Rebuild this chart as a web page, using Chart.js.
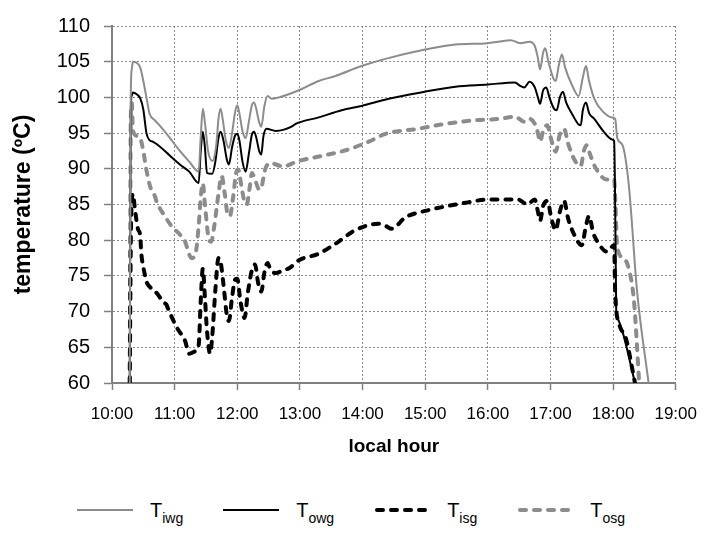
<!DOCTYPE html>
<html>
<head>
<meta charset="utf-8">
<script src="https://cdn.jsdelivr.net/npm/chart.js@4.4.0/dist/chart.umd.min.js"></script>
<style>
  body { margin: 0; background: #fff; }
  #wrap { position: relative; width: 711px; height: 550px; background: #fff; font-family: 'Liberation Sans', Arial, sans-serif; }
  #chart { position: absolute; left: 0; top: 0; }
  #legend { position: absolute; left: 77px; top: 497px; display: flex; align-items: center; gap: 40px; }
  .item { display: flex; align-items: center; }
  .item svg { margin-right: 17px; }
  .lbl { font-size: 20px; color: #000; line-height: 26px; }
  .lbl sub { font-size: 14px; vertical-align: -6px; line-height: 0; }
</style>
</head>
<body>
<div id="wrap">
  <canvas id="chart" width="711" height="470"></canvas>
  <div id="legend"></div>
</div>
<script>
// local time (h:mm) and temperature in ºC for each glass temperature
const iwgTimes = ['10:17', '10:18', '10:19', '10:20', '10:23', '10:27', '10:30', '10:33', '10:36', '10:41', '10:46', '10:55',
  '11:05', '11:14', '11:23', '11:25', '11:27', '11:29', '11:32', '11:36', '11:40', '11:42', '11:44', '11:46', '11:49', '11:52',
  '11:55', '11:58', '12:00', '12:02', '12:05', '12:08', '12:11', '12:14', '12:16', '12:18', '12:21', '12:23', '12:26', '12:29',
  '12:33', '12:40', '12:59', '13:18', '13:34', '13:59', '14:22', '15:00', '15:29', '16:00', '16:10', '16:22', '16:31', '16:40',
  '16:45', '16:48', '16:50', '16:53', '16:55', '16:58', '17:03', '17:05', '17:08', '17:11', '17:14', '17:21', '17:27', '17:31',
  '17:34', '17:37', '17:42', '17:51', '17:59', '18:02', '18:04', '18:09', '18:15', '18:23', '18:34']
const iwgTemps = [60, 100.5, 104.0, 105.0, 104.9, 104.2, 102.3, 100.0, 97.7, 96.8, 96.0, 94.4,
  92.5, 91.0, 89.6, 94.5, 98.4, 96.5, 92.5, 91.1, 93.5, 97.0, 98.4, 97.0, 94.0, 92.9,
  95.0, 98.0, 98.9, 97.8, 95.3, 94.3, 96.5, 98.9, 99.3, 98.5, 96.5, 95.9, 98.8, 100.2,
  99.8, 100.0, 101.0, 102.3, 103.0, 104.4, 105.4, 106.7, 107.4, 107.6, 107.8, 108.0, 107.6, 107.8,
  107.2, 105.5, 103.9, 106.3, 106.9, 105.0, 102.6, 102.3, 104.5, 106.0, 104.2, 101.6, 100.2, 102.8,
  104.4, 102.3, 99.8, 97.9, 97.2, 97.0, 94.3, 93.3, 87.8, 72.8, 60]

const owgTimes = ['10:17', '10:18', '10:19', '10:20', '10:24', '10:27', '10:30', '10:33', '10:36', '10:39', '10:46', '10:55',
  '11:05', '11:14', '11:23', '11:25', '11:27', '11:29', '11:31', '11:36', '11:39', '11:42', '11:44', '11:47', '11:50', '11:52',
  '11:55', '11:58', '12:00', '12:02', '12:05', '12:08', '12:11', '12:14', '12:16', '12:18', '12:21', '12:23', '12:25', '12:28',
  '12:37', '12:52', '12:56', '13:18', '13:40', '13:59', '14:25', '14:56', '15:29', '16:00', '16:26', '16:31', '16:35', '16:40',
  '16:45', '16:48', '16:50', '16:53', '16:56', '16:59', '17:04', '17:06', '17:09', '17:12', '17:15', '17:21', '17:27', '17:29',
  '17:31', '17:34', '17:37', '17:42', '17:51', '17:59', '18:01', '18:02', '18:03', '18:04', '18:09', '18:21']
const owgTemps = [60, 98.5, 100.3, 100.7, 100.4, 99.9, 98.3, 95.0, 94.0, 93.8, 93.1, 91.9,
  90.6, 89.6, 88.0, 92.5, 95.2, 93.0, 89.4, 89.3, 91.0, 94.3, 95.2, 93.8, 91.3, 90.6,
  93.0, 94.7, 94.9, 94.0, 91.0, 89.6, 92.0, 94.8, 95.2, 94.5, 92.5, 92.0, 94.5, 95.6,
  95.3, 95.9, 96.3, 97.2, 98.2, 98.8, 99.8, 100.7, 101.5, 101.8, 102.1, 101.6, 101.4, 102.2,
  101.4, 100.0, 99.1, 101.0, 101.4, 100.0, 98.3, 98.2, 100.0, 100.8, 99.3, 97.6, 96.2, 96.1,
  98.2, 99.3, 97.8, 97.0, 95.2, 94.1, 93.9, 85.0, 70.0, 69.1, 67.2, 60]

const isgTimes = ['10:17', '10:18', '10:19', '10:20', '10:22', '10:25', '10:27', '10:28', '10:31', '10:33', '10:36', '10:39',
  '10:44', '10:49', '10:52', '10:54', '11:02', '11:10', '11:14', '11:19', '11:23', '11:25', '11:27', '11:29', '11:31', '11:34',
  '11:36', '11:39', '11:42', '11:44', '11:47', '11:50', '11:52', '11:55', '11:58', '12:00', '12:03', '12:07', '12:10', '12:14',
  '12:17', '12:20', '12:23', '12:26', '12:29', '12:32', '12:37', '12:44', '12:50', '12:59', '13:18', '13:34', '13:53', '14:15',
  '14:22', '14:28', '14:41', '15:00', '15:22', '15:41', '16:00', '16:29', '16:38', '16:45', '16:48', '16:50', '16:53', '16:57',
  '17:01', '17:05', '17:09', '17:13', '17:17', '17:23', '17:30', '17:34', '17:37', '17:41', '17:45', '17:54', '18:01', '18:02',
  '18:06', '18:12', '18:21']
const isgTemps = [60, 80.0, 85.5, 86.5, 84.3, 81.5, 80.7, 78.3, 75.5, 74.2, 73.5, 73.1,
  72.4, 71.3, 71.0, 70.3, 67.8, 65.9, 64.1, 64.4, 65.3, 71.5, 76.0, 72.0, 67.3, 64.1,
  66.5, 73.0, 77.5, 77.0, 73.5, 69.5, 68.7, 72.0, 74.5, 74.6, 71.5, 69.1, 72.5, 75.8,
  76.6, 74.0, 72.8, 75.5, 76.8, 75.8, 75.4, 75.8, 76.1, 77.2, 78.1, 79.5, 81.4, 82.3,
  82.0, 81.6, 83.2, 84.1, 84.8, 85.3, 85.7, 85.7, 85.0, 85.7, 84.0, 82.7, 84.8, 85.5,
  83.0, 81.4, 84.0, 85.5, 83.0, 80.7, 79.3, 82.0, 83.4, 81.0, 79.8, 78.4, 79.3, 72.8,
  68.2, 66.4, 60]

const osgTimes = ['10:17', '10:18', '10:19', '10:20', '10:24', '10:27', '10:30', '10:33', '10:37', '10:41', '10:43', '10:50',
  '10:58', '11:05', '11:10', '11:14', '11:16', '11:20', '11:23', '11:25', '11:27', '11:29', '11:33', '11:35', '11:38', '11:42',
  '11:45', '11:48', '11:51', '11:53', '11:56', '11:59', '12:01', '12:04', '12:07', '12:09', '12:12', '12:14', '12:17', '12:21',
  '12:23', '12:26', '12:28', '12:33', '12:37', '12:45', '12:50', '12:59', '13:21', '13:44', '14:06', '14:22', '14:53', '15:15',
  '15:48', '16:12', '16:26', '16:35', '16:40', '16:45', '16:48', '16:50', '16:53', '16:57', '17:00', '17:05', '17:09', '17:13',
  '17:17', '17:24', '17:29', '17:32', '17:35', '17:38', '17:43', '17:54', '18:01', '18:02', '18:04', '18:10', '18:15', '18:20',
  '18:25']
const osgTemps = [60, 97.0, 99.2, 95.4, 94.6, 94.3, 92.5, 89.8, 87.3, 86.2, 85.3, 83.5,
  81.8, 80.8, 79.8, 78.0, 77.5, 78.1, 82.0, 86.0, 88.0, 85.0, 80.0, 79.8, 82.0, 86.5,
  89.0, 86.5, 83.5, 83.4, 86.0, 89.5, 89.9, 87.5, 85.3, 85.0, 87.5, 89.4, 88.5, 87.1,
  87.3, 89.5, 90.4, 90.8, 90.6, 90.3, 90.6, 91.1, 91.8, 92.6, 93.8, 94.9, 95.6, 96.2,
  96.8, 97.0, 97.3, 96.6, 97.0, 96.3, 95.0, 93.8, 95.3, 96.1, 94.5, 92.4, 94.8, 95.6,
  93.5, 91.0, 90.4, 92.5, 93.3, 92.0, 90.2, 88.5, 88.5, 86.0, 79.0, 77.5, 76.0, 71.5,
  60]

const hourTicks = ['10:00', '11:00', '12:00', '13:00', '14:00', '15:00', '16:00', '17:00', '18:00', '19:00']

const toHours = t => {
  const [h, m] = t.split(':').map(Number)
  return h + m / 60
}

const series = [
  { sub: 'iwg', times: iwgTimes, temps: iwgTemps, color: '#8c8c8c', width: 2, dash: [] },
  { sub: 'owg', times: owgTimes, temps: owgTemps, color: '#000000', width: 2, dash: [] },
  { sub: 'isg', times: isgTimes, temps: isgTemps, color: '#000000', width: 4, dash: [6, 8] },
  { sub: 'osg', times: osgTimes, temps: osgTemps, color: '#8c8c8c', width: 4, dash: [6, 8] }
]

const datasets = series.map(s => ({
  label: 'T' + s.sub,
  data: s.times.map((t, i) => ({ x: toHours(t), y: s.temps[i] })),
  borderColor: s.color,
  borderWidth: s.width,
  borderDash: s.dash,
  borderCapStyle: s.dash.length ? 'round' : 'butt',
  borderJoinStyle: 'round',
  cubicInterpolationMode: 'monotone',
  pointRadius: 0,
  fill: false
}))

Chart.defaults.font.family = "'Liberation Sans', Arial, sans-serif"
Chart.defaults.color = '#000'

const gridColor = '#8a8a8a'
const axisColor = '#808080'

new Chart(document.getElementById('chart'), {
  type: 'line',
  data: { datasets },
  options: {
    responsive: false,
    animation: false,
    layout: { padding: { top: 21, right: 32, bottom: 0, left: 0 } },
    plugins: {
      legend: { display: false },
      tooltip: { enabled: false }
    },
    scales: {
      x: {
        type: 'linear',
        min: toHours(hourTicks[0]),
        max: toHours(hourTicks[hourTicks.length - 1]),
        afterBuildTicks: scale => {
          scale.ticks = hourTicks.map(t => ({ value: toHours(t) }))
        },
        afterFit: scale => { scale.height = 87 },
        ticks: {
          callback: (v, i) => hourTicks[i],
          font: { size: 17 },
          padding: 14,
          maxRotation: 0,
          autoSkip: false
        },
        grid: { color: gridColor, lineWidth: 1, tickColor: axisColor, tickLength: 7, tickWidth: 1.5, tickBorderDash: [] },
        border: { color: axisColor, width: 2, dash: [2, 2] },
        title: { display: true, text: 'local hour', font: { size: 19, weight: 'bold' }, padding: { top: 0, bottom: 12 } }
      },
      y: {
        min: 60,
        max: 110,
        afterFit: scale => { scale.width = 112 },
        ticks: { stepSize: 5, font: { size: 20 }, padding: 14 },
        grid: { color: gridColor, lineWidth: 1, tickColor: axisColor, tickLength: 8, tickWidth: 1.5, tickBorderDash: [] },
        border: { color: axisColor, width: 2, dash: [2, 2] },
        title: { display: true, text: 'temperature (ºC)', font: { size: 23, weight: 'bold' }, padding: { top: 10, bottom: 0 } }
      }
    }
  }
})

// legend with subscripted names and line samples
const legend = document.getElementById('legend')
series.forEach(s => {
  const item = document.createElement('span')
  item.className = 'item'
  const dash = s.dash.length ? ` stroke-dasharray="${s.dash.join(' ')}" stroke-linecap="round"` : ''
  item.innerHTML = `<svg width="56" height="10"><line x1="${s.dash.length ? 3 : 0}" y1="5" x2="56" y2="5" stroke="${s.color}" stroke-width="${s.width}"${dash}/></svg>` +
    `<span class="lbl">T<sub>${s.sub}</sub></span>`
  legend.appendChild(item)
})
</script>
</body>
</html>
